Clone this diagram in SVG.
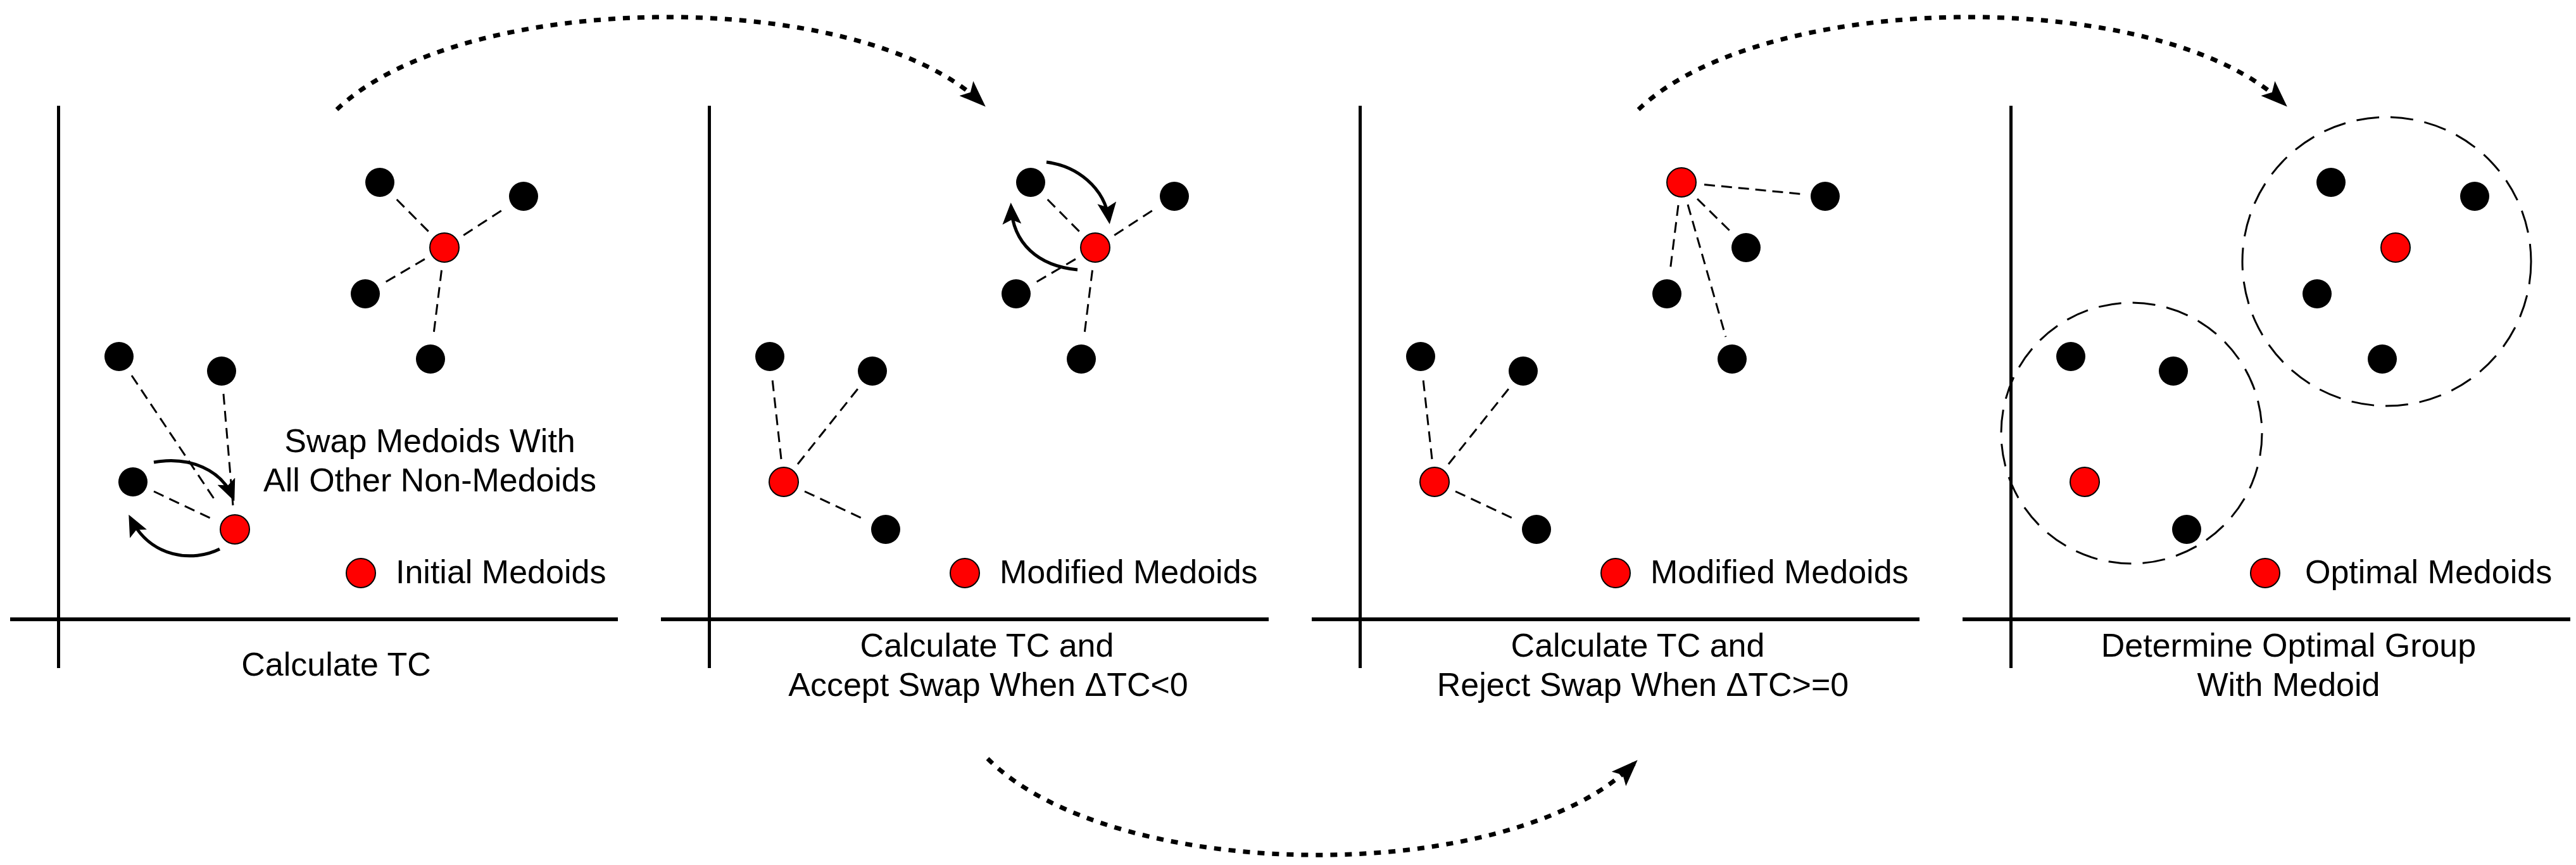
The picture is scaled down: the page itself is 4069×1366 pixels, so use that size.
<svg xmlns="http://www.w3.org/2000/svg" width="4069" height="1366" viewBox="0 0 4069 1366">
<style>
  .axis { stroke:#000; fill:none; }
  .ax-v { stroke-width:5; }
  .ax-h { stroke-width:6; }
  .pt { fill:#000; }
  .md { fill:#ff0000; stroke:#000; stroke-width:2; }
  .link { stroke:#000; stroke-width:3; stroke-dasharray:17 10; fill:none; }
  .grp { stroke:#000; stroke-width:3; stroke-dasharray:36 18; fill:none; }
  .flow { stroke:#000; stroke-width:7; stroke-dasharray:11 12; fill:none; marker-end:url(#headBig); }
  .swap { stroke:#000; stroke-width:5; fill:none; marker-end:url(#headSmall); }
  text { font-family:"Liberation Sans", Arial, sans-serif; font-size:52px; fill:#000; }
  .c { text-anchor:middle; }
</style>
<defs>
  <marker id="headBig" markerUnits="userSpaceOnUse" viewBox="0 0 42 32" markerWidth="42" markerHeight="32" refX="34" refY="16" orient="auto">
    <path d="M0,0 L42,16 L0,32 L9,16 z" fill="#000"/>
  </marker>
  <marker id="headSmall" markerUnits="userSpaceOnUse" viewBox="0 0 34 30" markerWidth="34" markerHeight="30" refX="28" refY="15" orient="auto">
    <path d="M0,0 L34,15 L0,30 L7,15 z" fill="#000"/>
  </marker>
</defs>
<rect width="4069" height="1366" fill="#fff"/>

<!-- Panel 1 -->
<g id="panel1">
  <g id="p1-axes"><line class="axis ax-v" x1="92.5" y1="167" x2="92.5" y2="1055"/><line class="axis ax-h" x1="16" y1="978" x2="976" y2="978"/></g>
  <g id="p1-links">
    <line class="link" x1="676.7" y1="365.4" x2="625.3" y2="313.6"/>
    <line class="link" x1="732.2" y1="371.4" x2="796.8" y2="329.6"/>
    <line class="link" x1="670.9" y1="409.1" x2="608.1" y2="445.9"/>
    <line class="link" x1="697.5" y1="426.7" x2="684.5" y2="531.3"/>
    <line class="link" x1="208" y1="593" x2="343" y2="795"/>
    <line class="link" x1="353" y1="622" x2="368" y2="798"/>
    <line class="link" x1="243" y1="776" x2="338" y2="821"/>
  </g>
  <g id="p1-a"><circle class="pt" cx="600" cy="288" r="23"/></g>
  <g id="p1-b"><circle class="pt" cx="827" cy="310" r="23"/></g>
  <g id="p1-r"><circle class="md" cx="702" cy="391" r="23"/></g>
  <g id="p1-c"><circle class="pt" cx="577" cy="464" r="23"/></g>
  <g id="p1-d"><circle class="pt" cx="680" cy="567" r="23"/></g>
  <g id="p1-e"><circle class="pt" cx="188" cy="563" r="23"/></g>
  <g id="p1-f"><circle class="pt" cx="350" cy="586" r="23"/></g>
  <g id="p1-g"><circle class="pt" cx="210" cy="761" r="23"/></g>
  <g id="p1-h"><circle class="md" cx="371" cy="836" r="23"/></g>
  <g id="p1-swap">
    <path class="swap" d="M243,730 C300,720 350,742 368,786"/>
    <path class="swap" d="M347,867 C305,888 238,882 206,818"/>
  </g>
  <g id="p1-note"><text class="c" x="679" y="714">Swap Medoids With</text><text class="c" x="679" y="776">All Other Non-Medoids</text></g>
  <g id="p1-legend"><circle class="md" cx="570" cy="905" r="23"/><text x="625" y="921">Initial Medoids</text></g>
  <g id="p1-label"><text class="c" x="531" y="1067">Calculate TC</text></g>
</g>

<!-- Panel 2 -->
<g id="panel2" transform="translate(1028,0)">
  <g id="p2-axes"><line class="axis ax-v" x1="92.5" y1="167" x2="92.5" y2="1055"/><line class="axis ax-h" x1="16" y1="978" x2="976" y2="978"/></g>
  <g id="p2-links">
    <line class="link" x1="676.7" y1="365.4" x2="625.3" y2="313.6"/>
    <line class="link" x1="732.2" y1="371.4" x2="796.8" y2="329.6"/>
    <line class="link" x1="670.9" y1="409.1" x2="608.1" y2="445.9"/>
    <line class="link" x1="697.5" y1="426.7" x2="684.5" y2="531.3"/>
    <line class="link" x1="206" y1="725" x2="192" y2="599"/>
    <line class="link" x1="232" y1="733" x2="327" y2="614"/>
    <line class="link" x1="243" y1="776" x2="339" y2="821"/>
  </g>
  <g id="p2-a"><circle class="pt" cx="600" cy="288" r="23"/></g>
  <g id="p2-b"><circle class="pt" cx="827" cy="310" r="23"/></g>
  <g id="p2-r"><circle class="md" cx="702" cy="391" r="23"/></g>
  <g id="p2-c"><circle class="pt" cx="577" cy="464" r="23"/></g>
  <g id="p2-d"><circle class="pt" cx="680" cy="567" r="23"/></g>
  <g id="p2-e"><circle class="pt" cx="188" cy="563" r="23"/></g>
  <g id="p2-f"><circle class="pt" cx="350" cy="586" r="23"/></g>
  <g id="p2-g"><circle class="md" cx="210" cy="761" r="23"/></g>
  <g id="p2-h"><circle class="pt" cx="371" cy="836" r="23"/></g>
  <g id="p2-swap">
    <path class="swap" d="M625,256 C672,262 717,295 724,348"/>
    <path class="swap" d="M674,426 C612,420 572,385 569,326"/>
  </g>
  <g id="p2-legend"><circle class="md" cx="496" cy="905" r="23"/><text x="551" y="921">Modified Medoids</text></g>
  <g id="p2-label"><text class="c" x="531" y="1037">Calculate TC and</text><text class="c" x="533" y="1099">Accept Swap When ΔTC&lt;0</text></g>
</g>

<!-- Panel 3 -->
<g id="panel3" transform="translate(2056,0)">
  <g id="p3-axes"><line class="axis ax-v" x1="92.5" y1="167" x2="92.5" y2="1055"/><line class="axis ax-h" x1="16" y1="978" x2="976" y2="978"/></g>
  <g id="p3-links">
    <line class="link" x1="636" y1="291.5" x2="791" y2="306.5"/>
    <line class="link" x1="625" y1="314" x2="677" y2="365"/>
    <line class="link" x1="595" y1="324" x2="582" y2="428"/>
    <line class="link" x1="610" y1="323" x2="670" y2="532"/>
    <line class="link" x1="206" y1="725" x2="192" y2="599"/>
    <line class="link" x1="232" y1="733" x2="327" y2="614"/>
    <line class="link" x1="243" y1="776" x2="339" y2="821"/>
  </g>
  <g id="p3-a"><circle class="md" cx="600" cy="288" r="23"/></g>
  <g id="p3-b"><circle class="pt" cx="827" cy="310" r="23"/></g>
  <g id="p3-r"><circle class="pt" cx="702" cy="391" r="23"/></g>
  <g id="p3-c"><circle class="pt" cx="577" cy="464" r="23"/></g>
  <g id="p3-d"><circle class="pt" cx="680" cy="567" r="23"/></g>
  <g id="p3-e"><circle class="pt" cx="188" cy="563" r="23"/></g>
  <g id="p3-f"><circle class="pt" cx="350" cy="586" r="23"/></g>
  <g id="p3-g"><circle class="md" cx="210" cy="761" r="23"/></g>
  <g id="p3-h"><circle class="pt" cx="371" cy="836" r="23"/></g>
  <g id="p3-legend"><circle class="md" cx="496" cy="905" r="23"/><text x="551" y="921">Modified Medoids</text></g>
  <g id="p3-label"><text class="c" x="531" y="1037">Calculate TC and</text><text class="c" x="539" y="1099">Reject Swap When ΔTC&gt;=0</text></g>
</g>

<!-- Panel 4 -->
<g id="panel4" transform="translate(3084,0)">
  <g id="p4-axes"><line class="axis ax-v" x1="92.5" y1="167" x2="92.5" y2="1055"/><line class="axis ax-h" x1="16" y1="978" x2="976" y2="978"/></g>
  <g id="p4-groups">
    <circle class="grp" cx="686" cy="413" r="228"/>
    <circle class="grp" cx="283" cy="684" r="206"/>
  </g>
  <g id="p4-a"><circle class="pt" cx="598" cy="288" r="23"/></g>
  <g id="p4-b"><circle class="pt" cx="825" cy="310" r="23"/></g>
  <g id="p4-r"><circle class="md" cx="700" cy="391" r="23"/></g>
  <g id="p4-c"><circle class="pt" cx="576" cy="464" r="23"/></g>
  <g id="p4-d"><circle class="pt" cx="679" cy="567" r="23"/></g>
  <g id="p4-e"><circle class="pt" cx="187" cy="563" r="23"/></g>
  <g id="p4-f"><circle class="pt" cx="349" cy="586" r="23"/></g>
  <g id="p4-g"><circle class="md" cx="209" cy="761" r="23"/></g>
  <g id="p4-h"><circle class="pt" cx="370" cy="836" r="23"/></g>
  <g id="p4-legend"><circle class="md" cx="494" cy="905" r="23"/><text x="557" y="921">Optimal Medoids</text></g>
  <g id="p4-label"><text class="c" x="531" y="1037">Determine Optimal Group</text><text class="c" x="531" y="1099">With Medoid</text></g>
</g>

<!-- Flow connectors -->
<g id="connectors">
  <path class="flow" d="M532,173 C732,-18 1356,-22 1551,163"/>
  <path class="flow" d="M1560,1198 C1760,1398 2386,1401 2581,1206"/>
  <path class="flow" d="M2588,173 C2788,-18 3412,-22 3607,163"/>
</g>
</svg>
